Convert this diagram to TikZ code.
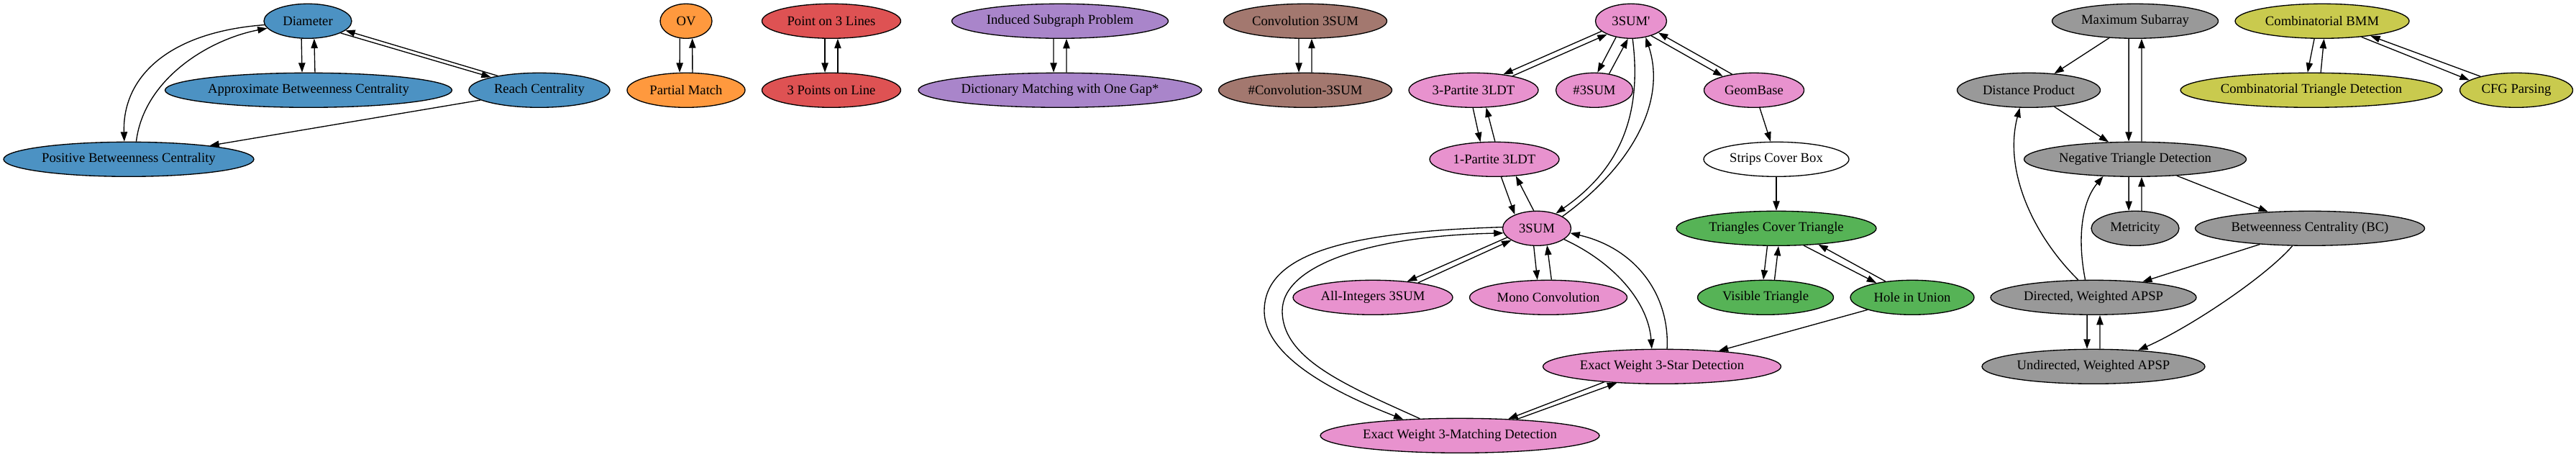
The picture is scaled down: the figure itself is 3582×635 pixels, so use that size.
\documentclass[tikz,border=0pt]{standalone}
\usepackage{fontspec}
\setmainfont{Liberation Serif}
\usepackage{tikz}
\usetikzlibrary{arrows.meta, shapes.geometric}
\definecolor{gblue}{RGB}{76,146,195}
\definecolor{gorange}{RGB}{255,153,62}
\definecolor{gred}{RGB}{222,82,83}
\definecolor{gpurple}{RGB}{169,133,202}
\definecolor{gbrown}{RGB}{163,120,111}
\definecolor{gpink}{RGB}{232,146,206}
\definecolor{ggreen}{RGB}{86,179,86}
\definecolor{ggray}{RGB}{153,153,153}
\definecolor{golive}{RGB}{201,202,78}
\tikzset{
    prob/.style={ellipse, draw, line width=1pt, inner sep=0pt, minimum height=36pt, font=\fontsize{14pt}{16pt}\selectfont},
    wd/.style={minimum width=#1*0.75pt},
    arr/.style={-{Triangle[length=10pt, width=7pt]}, line width=1pt},
}
\begin{document}
\begin{tikzpicture}[x=0.75pt, y=-0.75pt]
    \useasboundingbox (0, 0) rectangle (3582, 635);

    \node[prob, wd=122, fill=gblue] (diam) at (428, 29.3) {Diameter};
    \node[prob, wd=399, fill=gblue] (abc) at (429, 125.3) {Approximate Betweenness Centrality};
    \node[prob, wd=196, fill=gblue] (reach) at (750, 125.3) {Reach Centrality};
    \node[prob, wd=348, fill=gblue] (pbc) at (179, 221.3) {Positive Betweenness Centrality};

    \node[prob, wd=72, fill=gorange] (ov) at (954, 29.3) {OV};
    \node[prob, wd=164, fill=gorange] (pm) at (954, 125.3) {Partial Match};

    \node[prob, wd=193, fill=gred] (pol) at (1156, 29.3) {Point on 3 Lines};
    \node[prob, wd=193, fill=gred] (tpl) at (1156, 125.3) {3 Points on Line};

    \node[prob, wd=301, fill=gpurple] (isp) at (1474, 29.3) {Induced Subgraph Problem};
    \node[prob, wd=394, fill=gpurple] (dmg) at (1474, 125.3) {Dictionary Matching with One Gap*};

    \node[prob, wd=227, fill=gbrown] (conv) at (1815, 29.3) {Convolution 3SUM};
    \node[prob, wd=241, fill=gbrown] (hconv) at (1815, 125.3) {\#Convolution-3SUM};

    \node[prob, wd=99, fill=gpink] (tsp) at (2268, 29.3) {3SUM\textquotesingle};
    \node[prob, wd=180, fill=gpink] (p3) at (2049, 125.3) {3-Partite 3LDT};
    \node[prob, wd=107, fill=gpink] (hsum) at (2217, 125.3) {\#3SUM};
    \node[prob, wd=139, fill=gpink] (geom) at (2439, 125.3) {GeomBase};
    \node[prob, wd=180, fill=gpink] (p1) at (2078, 221.3) {1-Partite 3LDT};
    \node[prob, wd=202, fill=white] (scb) at (2470, 221.3) {Strips Cover Box};
    \node[prob, wd=95, fill=gpink] (sum) at (2137, 317.3) {3SUM};
    \node[prob, wd=222, fill=gpink] (ai) at (1909, 413.3) {All-Integers 3SUM};
    \node[prob, wd=219, fill=gpink] (mono) at (2153, 413.3) {Mono Convolution};
    \node[prob, wd=331, fill=gpink] (star) at (2311, 509.3) {Exact Weight 3-Star Detection};
    \node[prob, wd=388, fill=gpink] (match) at (2030, 605.3) {Exact Weight 3-Matching Detection};

    \node[prob, wd=278, fill=ggreen] (tct) at (2470, 317.3) {Triangles Cover Triangle};
    \node[prob, wd=189, fill=ggreen] (vis) at (2455, 413.3) {Visible Triangle};
    \node[prob, wd=172, fill=ggreen] (hole) at (2659, 413.3) {Hole in Union};

    \node[prob, wd=231, fill=ggray] (msa) at (2969, 29.3) {Maximum Subarray};
    \node[prob, wd=199, fill=ggray] (dp) at (2821, 125.3) {Distance Product};
    \node[prob, wd=309, fill=ggray] (ntd) at (2969, 221.3) {Negative Triangle Detection};
    \node[prob, wd=122, fill=ggray] (met) at (2969, 317.3) {Metricity};
    \node[prob, wd=319, fill=ggray] (bc) at (3212, 317.3) {Betweenness Centrality (BC)};
    \node[prob, wd=286, fill=ggray] (dir) at (2911, 413.3) {Directed, Weighted APSP};
    \node[prob, wd=310, fill=ggray] (und) at (2911, 509.3) {Undirected, Weighted APSP};

    \node[prob, wd=242, fill=golive] (bmm) at (3229, 29.3) {Combinatorial BMM};
    \node[prob, wd=364, fill=golive] (ctd) at (3214, 125.3) {Combinatorial Triangle Detection};
    \node[prob, wd=157, fill=golive] (cfg) at (3499, 125.3) {CFG Parsing};

    \draw (diam.250) edge[arr] (abc.110);
    \draw (abc.70) edge[arr] (diam.290);
    \draw (diam.340) edge[arr] (reach.165);
    \draw (reach.161) edge[arr] (diam.346);
    \draw[arr] (diam.185) .. controls (230, 45) and (170, 110) .. (pbc.104);
    \draw[arr] (pbc.67) .. controls (200, 110) and (290, 55) .. (diam.190);
    \draw (reach) edge[arr] (pbc);

    \draw (ov.250) edge[arr] (pm.110);
    \draw (pm.70) edge[arr] (ov.290);
    \draw (pol.250) edge[arr] (tpl.110);
    \draw (tpl.70) edge[arr] (pol.290);
    \draw (isp.250) edge[arr] (dmg.110);
    \draw (dmg.70) edge[arr] (isp.290);
    \draw (conv.250) edge[arr] (hconv.110);
    \draw (hconv.70) edge[arr] (conv.290);

    \draw (tsp.199) edge[arr] (p3.28);
    \draw (p3.20) edge[arr] (tsp.209);
    \draw (tsp.227) edge[arr] (hsum.80);
    \draw (hsum.48) edge[arr] (tsp.260);
    \draw (tsp.324) edge[arr] (geom.156);
    \draw (geom.144) edge[arr] (tsp.337);
    \draw[arr] (tsp.275) .. controls (2285, 170) and (2245, 240) .. (sum.38);
    \draw[arr] (sum.25) .. controls (2270, 230) and (2318, 140) .. (tsp.312);
    \draw (p3.268) edge[arr] (p1.129);
    \draw (p1.88) edge[arr] (p3.306);
    \draw (p1.291) edge[arr] (sum.148);
    \draw (sum.100) edge[arr] (p1.322);
    \draw (geom) edge[arr] (scb);
    \draw (scb) edge[arr] (tct);
    \draw (tct.243) edge[arr] (vis.97);
    \draw (vis.63) edge[arr] (tct.277);
    \draw (tct.328) edge[arr] (hole.158);
    \draw (hole.149) edge[arr] (tct.339);
    \draw (hole) edge[arr] (star);
    \draw (sum.197) edge[arr] (ai.25);
    \draw (ai.18) edge[arr] (sum.205);
    \draw (sum.260) edge[arr] (mono.122);
    \draw (mono.80) edge[arr] (sum.301);
    \draw[arr] (sum.338) .. controls (2245, 365) and (2292, 420) .. (star.120);
    \draw[arr] (star.74) .. controls (2322, 410) and (2275, 345) .. (sum.352);
    \draw[arr] (sum.178) .. controls (1880, 322) and (1758, 350) .. (1758, 432) .. controls (1758, 500) and (1870, 551) .. (match.164);
    \draw[arr] (match.157) .. controls (1876, 537) and (1783, 500) .. (1783, 432) .. controls (1783, 370) and (1900, 328) .. (sum.188);
    \draw (star.195) edge[arr] (match.19);
    \draw (match.16) edge[arr] (star.200);

    \draw (msa) edge[arr] (dp);
    \draw (msa.250) edge[arr] (ntd.110);
    \draw (ntd.70) edge[arr] (msa.290);
    \draw (dp) edge[arr] (ntd);
    \draw (ntd.250) edge[arr] (met.110);
    \draw (met.70) edge[arr] (ntd.290);
    \draw (ntd) edge[arr] (bc);
    \draw (bc) edge[arr] (dir);
    \draw[arr] (bc.225) .. controls (3150, 385) and (3045, 455) .. (und.20);
    \draw[arr] (dir.131) .. controls (2830, 330) and (2785, 240) .. (dp.243);
    \draw[arr] (dir.115) .. controls (2888, 330) and (2895, 280) .. (ntd.208);
    \draw (dir.250) edge[arr] (und.110);
    \draw (und.70) edge[arr] (dir.290);

    \draw (bmm.246) edge[arr] (ctd.102);
    \draw (ctd.62) edge[arr] (bmm.276);
    \draw (bmm.338) edge[arr] (cfg.168);
    \draw (cfg.159) edge[arr] (bmm.343);
\end{tikzpicture}
\end{document}
